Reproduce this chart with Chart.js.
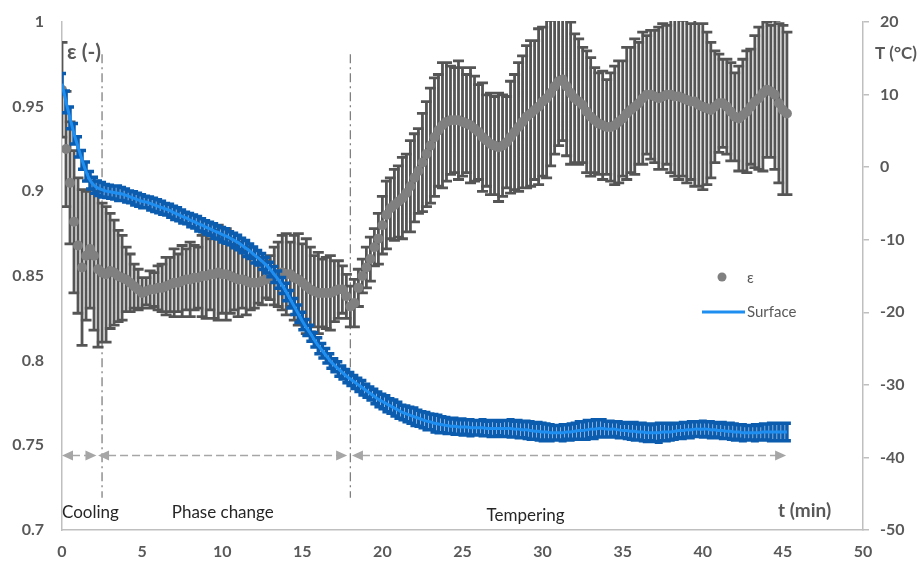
<!DOCTYPE html>
<html>
<head>
<meta charset="utf-8">
<script src="https://cdn.jsdelivr.net/npm/chart.js@4.4.0/dist/chart.umd.min.js"></script>
<style>
  body { margin: 0; background: #fff; }
  #wrap { width: 922px; height: 562px; }
</style>
</head>
<body>
<div id="wrap"><canvas id="grafico" width="922" height="562"></canvas></div>
<script>
// tiempo (min)
var tiempos = [
  0, 0.25, 0.5, 0.75, 1, 1.25, 1.5, 1.75, 2, 2.25, 2.5, 2.75,
  3, 3.25, 3.5, 3.75, 4, 4.25, 4.5, 4.75, 5, 5.25, 5.5, 5.75,
  6, 6.25, 6.5, 6.75, 7, 7.25, 7.5, 7.75, 8, 8.25, 8.5, 8.75,
  9, 9.25, 9.5, 9.75, 10, 10.25, 10.5, 10.75, 11, 11.25, 11.5, 11.75,
  12, 12.25, 12.5, 12.75, 13, 13.25, 13.5, 13.75, 14, 14.25, 14.5, 14.75,
  15, 15.25, 15.5, 15.75, 16, 16.25, 16.5, 16.75, 17, 17.25, 17.5, 17.75,
  18, 18.25, 18.5, 18.75, 19, 19.25, 19.5, 19.75, 20, 20.25, 20.5, 20.75,
  21, 21.25, 21.5, 21.75, 22, 22.25, 22.5, 22.75, 23, 23.25, 23.5, 23.75,
  24, 24.25, 24.5, 24.75, 25, 25.25, 25.5, 25.75, 26, 26.25, 26.5, 26.75,
  27, 27.25, 27.5, 27.75, 28, 28.25, 28.5, 28.75, 29, 29.25, 29.5, 29.75,
  30, 30.25, 30.5, 30.75, 31, 31.25, 31.5, 31.75, 32, 32.25, 32.5, 32.75,
  33, 33.25, 33.5, 33.75, 34, 34.25, 34.5, 34.75, 35, 35.25, 35.5, 35.75,
  36, 36.25, 36.5, 36.75, 37, 37.25, 37.5, 37.75, 38, 38.25, 38.5, 38.75,
  39, 39.25, 39.5, 39.75, 40, 40.25, 40.5, 40.75, 41, 41.25, 41.5, 41.75,
  42, 42.25, 42.5, 42.75, 43, 43.25, 43.5, 43.75, 44, 44.25, 44.5, 44.75,
  45, 45.25
];

// emisividad
var epsilon = [
  0.960, 0.925, 0.905, 0.882, 0.868, 0.855, 0.862, 0.866, 0.862, 0.854, 0.852, 0.851,
  0.853, 0.852, 0.850, 0.849, 0.848, 0.846, 0.844, 0.842, 0.840, 0.841, 0.842, 0.842,
  0.843, 0.843, 0.844, 0.845, 0.846, 0.846, 0.847, 0.848, 0.848, 0.849, 0.849, 0.850,
  0.850, 0.851, 0.851, 0.852, 0.851, 0.851, 0.850, 0.849, 0.848, 0.848, 0.847, 0.846,
  0.846, 0.846, 0.847, 0.848, 0.849, 0.850, 0.851, 0.852, 0.851, 0.851, 0.849, 0.848,
  0.846, 0.844, 0.842, 0.841, 0.840, 0.840, 0.840, 0.840, 0.841, 0.842, 0.842, 0.838,
  0.832, 0.834, 0.843, 0.850, 0.855, 0.860, 0.867, 0.872, 0.880, 0.886, 0.890, 0.892,
  0.894, 0.896, 0.899, 0.903, 0.908, 0.912, 0.917, 0.922, 0.927, 0.932, 0.936, 0.939,
  0.941, 0.942, 0.942, 0.942, 0.941, 0.940, 0.939, 0.937, 0.935, 0.932, 0.930, 0.928,
  0.927, 0.926, 0.927, 0.929, 0.932, 0.935, 0.938, 0.941, 0.944, 0.946, 0.948, 0.950,
  0.953, 0.955, 0.958, 0.962, 0.965, 0.966, 0.962, 0.958, 0.955, 0.953, 0.951, 0.947,
  0.944, 0.942, 0.940, 0.939, 0.938, 0.938, 0.939, 0.941, 0.943, 0.946, 0.948, 0.950,
  0.952, 0.955, 0.957, 0.957, 0.956, 0.955, 0.956, 0.957, 0.957, 0.956, 0.956, 0.955,
  0.954, 0.953, 0.953, 0.951, 0.950, 0.949, 0.948, 0.950, 0.952, 0.952, 0.950, 0.947,
  0.944, 0.943, 0.945, 0.947, 0.950, 0.953, 0.955, 0.958, 0.960, 0.959, 0.957, 0.952,
  0.948, 0.946
];
var epsilonErr = [
  0.028, 0.034, 0.036, 0.042, 0.040, 0.046, 0.038, 0.035, 0.044, 0.046, 0.041, 0.040,
  0.034, 0.031, 0.027, 0.025, 0.019, 0.017, 0.013, 0.012, 0.009, 0.008, 0.011, 0.010,
  0.013, 0.014, 0.017, 0.016, 0.020, 0.017, 0.021, 0.018, 0.022, 0.019, 0.018, 0.024,
  0.025, 0.021, 0.026, 0.028, 0.023, 0.027, 0.022, 0.019, 0.022, 0.017, 0.020, 0.016,
  0.015, 0.012, 0.014, 0.011, 0.013, 0.017, 0.019, 0.022, 0.024, 0.019, 0.025, 0.027,
  0.023, 0.028, 0.025, 0.021, 0.024, 0.020, 0.021, 0.022, 0.018, 0.017, 0.014, 0.013,
  0.012, 0.014, 0.011, 0.010, 0.012, 0.013, 0.011, 0.015, 0.017, 0.020, 0.018, 0.021,
  0.021, 0.024, 0.023, 0.027, 0.026, 0.025, 0.029, 0.031, 0.034, 0.035, 0.033, 0.037,
  0.035, 0.032, 0.031, 0.035, 0.032, 0.029, 0.034, 0.031, 0.028, 0.032, 0.027, 0.030,
  0.029, 0.032, 0.030, 0.027, 0.033, 0.034, 0.038, 0.039, 0.042, 0.043, 0.041, 0.046,
  0.044, 0.047, 0.043, 0.040, 0.038, 0.036, 0.041, 0.042, 0.038, 0.037, 0.034, 0.036,
  0.035, 0.031, 0.030, 0.032, 0.028, 0.032, 0.035, 0.036, 0.034, 0.039, 0.037, 0.040,
  0.036, 0.039, 0.035, 0.038, 0.039, 0.042, 0.043, 0.041, 0.046, 0.047, 0.049, 0.046,
  0.049, 0.046, 0.050, 0.048, 0.049, 0.045, 0.040, 0.033, 0.029, 0.026, 0.028, 0.029,
  0.026, 0.031, 0.033, 0.036, 0.034, 0.039, 0.042, 0.046, 0.040, 0.039, 0.044, 0.047,
  0.050, 0.048
];

// temperatura de superficie (°C)
var surface = [
  11.5, 9.0, 6.8, 4.6, 2.8, 1.0, -0.6, -1.8, -2.5, -2.9, -3.1, -3.3,
  -3.4, -3.5, -3.6, -3.7, -3.9, -4.1, -4.3, -4.5, -4.7, -4.8, -5.0, -5.2,
  -5.4, -5.6, -5.8, -6.0, -6.3, -6.5, -6.8, -7.0, -7.3, -7.5, -7.8, -8.0,
  -8.3, -8.5, -8.8, -9.0, -9.3, -9.5, -9.8, -10.1, -10.4, -10.8, -11.2, -11.6,
  -12.1, -12.5, -13.0, -13.5, -14.1, -14.8, -15.5, -16.3, -17.2, -18.2, -19.2, -20.2,
  -21.2, -22.1, -22.9, -23.8, -24.6, -25.3, -26.0, -26.7, -27.3, -27.8, -28.3, -28.8,
  -29.2, -29.6, -30.0, -30.4, -30.8, -31.2, -31.6, -32.0, -32.3, -32.6, -32.9, -33.2,
  -33.5, -33.8, -34.0, -34.2, -34.4, -34.6, -34.8, -35.0, -35.1, -35.3, -35.4, -35.5,
  -35.6, -35.7, -35.7, -35.8, -35.8, -35.8, -35.9, -35.9, -35.9, -35.9, -36.0, -36.0,
  -36.0, -36.0, -36.0, -36.0, -36.0, -36.1, -36.1, -36.2, -36.2, -36.3, -36.4, -36.4,
  -36.5, -36.5, -36.6, -36.6, -36.6, -36.6, -36.5, -36.5, -36.4, -36.3, -36.3, -36.2,
  -36.1, -36.1, -36.0, -36.0, -36.1, -36.1, -36.1, -36.2, -36.3, -36.3, -36.4, -36.4,
  -36.5, -36.5, -36.6, -36.6, -36.6, -36.6, -36.5, -36.5, -36.5, -36.4, -36.3, -36.3,
  -36.2, -36.2, -36.1, -36.1, -36.1, -36.1, -36.2, -36.2, -36.3, -36.3, -36.4, -36.4,
  -36.5, -36.5, -36.6, -36.6, -36.6, -36.6, -36.6, -36.5, -36.5, -36.5, -36.5, -36.5,
  -36.5, -36.5
];
var surfaceErr = [
  1.4, 1.5, 1.5, 1.4, 1.4, 1.3, 1.3, 1.2, 1.1, 1.0, 1.0, 0.9,
  0.9, 0.9, 1.0, 0.9, 0.9, 0.8, 0.9, 0.9, 0.9, 0.8, 0.9, 0.9,
  0.9, 0.9, 0.8, 0.9, 0.9, 0.9, 0.9, 0.8, 0.9, 0.9, 1.0, 0.9,
  0.9, 0.9, 1.0, 0.9, 1.0, 1.0, 0.9, 1.0, 1.0, 1.0, 1.1, 1.0,
  1.1, 1.0, 1.1, 1.1, 1.0, 1.1, 1.2, 1.1, 1.2, 1.2, 1.1, 1.2,
  1.2, 1.1, 1.1, 1.0, 1.1, 1.0, 1.0, 1.0, 0.9, 1.0, 0.9, 0.9,
  0.9, 0.9, 0.9, 1.0, 0.9, 0.9, 1.0, 1.0, 1.0, 1.1, 1.0, 1.1,
  1.1, 1.0, 1.1, 1.1, 1.2, 1.1, 1.1, 1.2, 1.1, 1.2, 1.2, 1.1,
  1.1, 1.0, 1.1, 1.0, 1.1, 1.0, 1.1, 1.0, 1.0, 1.1, 1.0, 1.1,
  1.1, 1.0, 1.1, 1.1, 1.2, 1.1, 1.2, 1.1, 1.2, 1.2, 1.1, 1.2,
  1.2, 1.1, 1.1, 1.0, 1.0, 1.1, 1.0, 1.1, 1.1, 1.2, 1.2, 1.3,
  1.2, 1.3, 1.2, 1.2, 1.1, 1.1, 1.0, 1.1, 1.0, 1.1, 1.1, 1.2,
  1.1, 1.2, 1.2, 1.1, 1.2, 1.3, 1.2, 1.2, 1.1, 1.1, 1.0, 1.1,
  1.0, 1.1, 1.0, 1.0, 1.1, 1.0, 1.1, 1.0, 1.0, 1.1, 1.0, 1.1,
  1.1, 1.0, 1.1, 1.0, 1.0, 1.1, 1.0, 1.1, 1.1, 1.2, 1.2, 1.2,
  1.2, 1.2
];

var xTicks = [0, 5, 10, 15, 20, 25, 30, 35, 40, 45, 50];
var epsTicks = [0.7, 0.75, 0.8, 0.85, 0.9, 0.95, 1];
var epsLabels = ['0.7', '0.75', '0.8', '0.85', '0.9', '0.95', '1'];
var tempTicks = [-50, -40, -30, -20, -10, 0, 10, 20];

// fases
var fasesLimites = [2.5, 18];
var fasesNombres = ['Cooling', 'Phase change', 'Tempering'];
var fasesTextoT = [0, 6.85, 26.5];
var flechasT = [[0, 2.15], [2.25, 17.8], [18.1, 45.2]];
var flechaNivel = 0.744;

var FUENTE = 'Lato, "Liberation Sans", sans-serif';
var GRIS_TEXTO = '#595959';

function puntos(vals) {
  return tiempos.map(function (t, i) { return { x: t, y: vals[i] }; });
}

var errorBars = {
  id: 'errorBars',
  beforeDatasetDraw: function (chart, args) {
    var ds = chart.data.datasets[args.index];
    if (!ds.errores) return;
    var meta = args.meta;
    var xs = chart.scales[meta.xAxisID], ys = chart.scales[meta.yAxisID];
    var ctx = chart.ctx, area = chart.chartArea;
    ctx.save();
    ctx.beginPath();
    ctx.rect(area.left, area.top - 1, area.right - area.left, area.bottom - area.top + 2);
    ctx.clip();
    ctx.strokeStyle = ds.errorColor;
    ctx.lineWidth = ds.errorWidth;
    ctx.beginPath();
    var c = ds.capWidth / 2;
    ds.data.forEach(function (p, i) {
      var e = ds.errores[i];
      var x = xs.getPixelForValue(p.x);
      var y1 = ys.getPixelForValue(p.y + e);
      var y2 = ys.getPixelForValue(p.y - e);
      ctx.moveTo(x, y1); ctx.lineTo(x, y2);
      ctx.moveTo(x - c, y1); ctx.lineTo(x + c, y1);
      ctx.moveTo(x - c, y2); ctx.lineTo(x + c, y2);
    });
    ctx.stroke();
    ctx.restore();
  }
};

function punta(ctx, x, y, dir) {
  ctx.beginPath();
  ctx.moveTo(x, y);
  ctx.lineTo(x - dir * 11, y - 5);
  ctx.lineTo(x - dir * 11, y + 5);
  ctx.closePath();
  ctx.fill();
}

var anotaciones = {
  id: 'anotaciones',
  beforeDatasetsDraw: function (chart) {
    var ctx = chart.ctx, xs = chart.scales.x, ye = chart.scales.yEps;
    ctx.save();
    // lineas de fase
    ctx.strokeStyle = '#808080';
    ctx.lineWidth = 1.3;
    ctx.setLineDash([9, 4, 2, 4]);
    fasesLimites.forEach(function (t) {
      var x = xs.getPixelForValue(t);
      ctx.beginPath();
      ctx.moveTo(x, ye.getPixelForValue(0.981));
      ctx.lineTo(x, ye.getPixelForValue(0.719));
      ctx.stroke();
    });
    // flechas
    ctx.strokeStyle = '#a6a6a6';
    ctx.fillStyle = '#a6a6a6';
    ctx.lineWidth = 1.5;
    var y = ye.getPixelForValue(flechaNivel);
    flechasT.forEach(function (f) {
      var x1 = xs.getPixelForValue(f[0]), x2 = xs.getPixelForValue(f[1]);
      ctx.setLineDash([8, 4]);
      ctx.beginPath();
      ctx.moveTo(x1 + 10, y);
      ctx.lineTo(x2 - 10, y);
      ctx.stroke();
      ctx.setLineDash([]);
      punta(ctx, x1, y, -1);
      punta(ctx, x2, y, 1);
    });
    ctx.restore();
  },
  afterDraw: function (chart) {
    var ctx = chart.ctx, xs = chart.scales.x, area = chart.chartArea;
    ctx.save();
    ctx.textBaseline = 'middle';
    ctx.textAlign = 'left';
    // titulos de ejes
    ctx.fillStyle = GRIS_TEXTO;
    ctx.font = 'bold 21px ' + FUENTE;
    ctx.fillText('ε (-)', area.left + 5, 52);
    ctx.font = 'bold 17px ' + FUENTE;
    ctx.fillText('T (°C)', area.right + 12, 54);
    ctx.font = 'bold 19px ' + FUENTE;
    ctx.fillText('t (min)', 778, 511);
    // fases
    ctx.fillStyle = '#262626';
    ctx.font = '17px ' + FUENTE;
    var ys = [513, 513, 516];
    fasesNombres.forEach(function (n, i) {
      ctx.fillText(n, xs.getPixelForValue(fasesTextoT[i]), ys[i]);
    });
    // leyenda
    var d = chart.data.datasets;
    ctx.fillStyle = d[0].backgroundColor;
    ctx.beginPath();
    ctx.arc(722, 277, 4.5, 0, Math.PI * 2);
    ctx.fill();
    ctx.strokeStyle = d[1].borderColor;
    ctx.lineWidth = 3;
    ctx.beginPath();
    ctx.moveTo(702, 312);
    ctx.lineTo(745, 312);
    ctx.stroke();
    ctx.fillStyle = GRIS_TEXTO;
    ctx.font = '15px ' + FUENTE;
    ctx.fillText(d[0].label, 747, 278);
    ctx.fillText(d[1].label, 747, 312);
    ctx.restore();
  }
};

var tickFont = { family: FUENTE, size: 16, weight: 'bold' };

// ancho fijo y sin relleno extra arriba/abajo por las etiquetas
function ajusteY(ancho) {
  return function (s) { s.width = ancho; s.paddingTop = 0; s.paddingBottom = 0; };
}

new Chart(document.getElementById('grafico'), {
  type: 'line',
  data: {
    datasets: [
      {
        label: 'ε',
        data: puntos(epsilon),
        yAxisID: 'yEps',
        showLine: false,
        backgroundColor: '#808080',
        borderWidth: 0,
        pointRadius: 5,
        pointHoverRadius: 5,
        order: 1,
        errores: epsilonErr,
        errorColor: '#555555',
        errorWidth: 2.8,
        capWidth: 11
      },
      {
        label: 'Surface',
        data: puntos(surface),
        yAxisID: 'yT',
        borderColor: '#1f8ef1',
        borderWidth: 3,
        pointRadius: 0,
        tension: 0.3,
        order: 0,
        errores: surfaceErr,
        errorColor: '#0b5cae',
        errorWidth: 3.5,
        capWidth: 8
      }
    ]
  },
  options: {
    responsive: false,
    animation: false,
    devicePixelRatio: 1,
    layout: { padding: { top: 22, left: 0, right: 0, bottom: 0 } },
    plugins: { legend: { display: false }, tooltip: { enabled: false } },
    scales: {
      x: {
        type: 'linear',
        min: 0, max: 50,
        afterBuildTicks: function (s) { s.ticks = xTicks.map(function (v) { return { value: v }; }); },
        afterFit: function (s) { s.height = 32; },
        grid: { display: false, drawTicks: false },
        border: { display: true, color: '#bfbfbf', width: 1.5 },
        ticks: { color: GRIS_TEXTO, font: tickFont, padding: 12, maxRotation: 0 }
      },
      yEps: {
        type: 'linear',
        position: 'left',
        min: 0.7, max: 1,
        afterBuildTicks: function (s) { s.ticks = epsTicks.map(function (v) { return { value: v }; }); },
        afterFit: ajusteY(62),
        grid: { display: false, drawTicks: false },
        border: { display: true, color: '#bfbfbf', width: 1.5 },
        ticks: {
          color: GRIS_TEXTO, font: tickFont, padding: 18,
          callback: function (v, i) { return epsLabels[i]; }
        }
      },
      yT: {
        type: 'linear',
        position: 'right',
        min: -50, max: 20,
        afterBuildTicks: function (s) { s.ticks = tempTicks.map(function (v) { return { value: v }; }); },
        afterFit: ajusteY(59),
        grid: { display: true, drawOnChartArea: false, drawTicks: true, tickLength: 6, color: '#bfbfbf', lineWidth: 1.5 },
        border: { display: true, color: '#bfbfbf', width: 1.5 },
        ticks: { color: GRIS_TEXTO, font: tickFont, padding: 11 }
      }
    }
  },
  plugins: [errorBars, anotaciones]
});
</script>
</body>
</html>
